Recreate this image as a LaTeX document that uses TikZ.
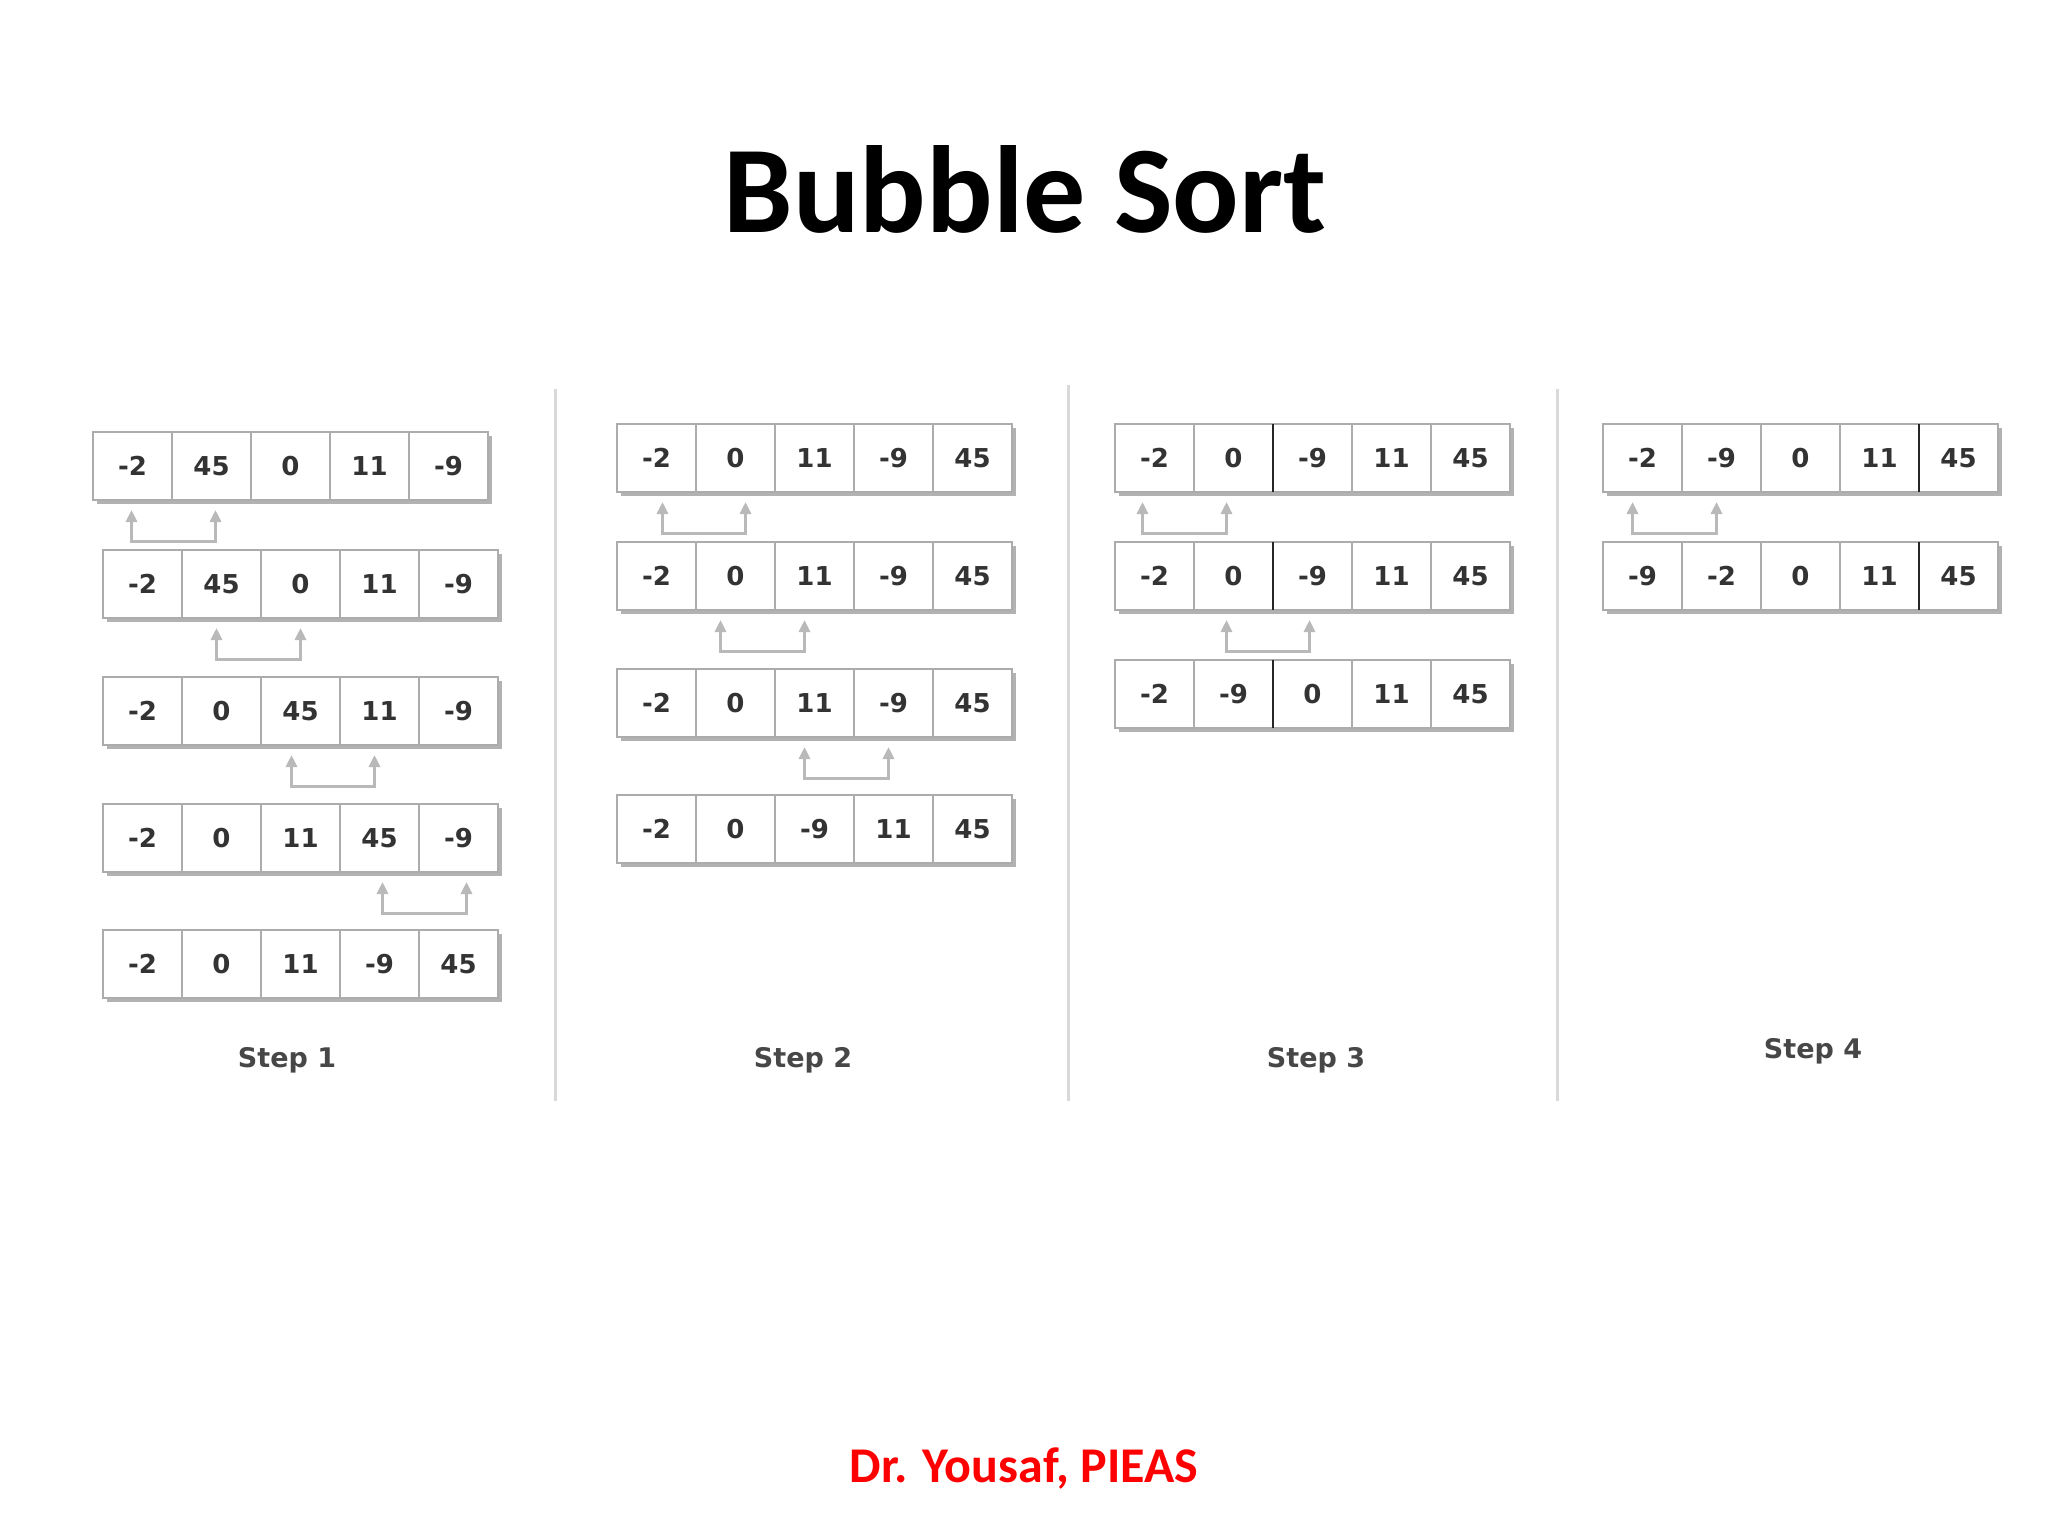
\documentclass[tikz,border=0pt]{standalone}
\usepackage{fontspec}
\newfontfamily\titlefont{Carlito}
\newfontfamily\numfont{DejaVu Sans}
\usetikzlibrary{arrows.meta,calc}
\tikzset{
  cell/.style={draw=gray!65, line width=2.5pt, fill=white, minimum width=79pt, minimum height=68pt,
    inner sep=0pt, outer sep=0pt, font=\numfont\bfseries\fontsize{26}{26}\selectfont, text=black!80},
  rowshadow/.style={fill=gray!60, draw=none},
  swp/.style={draw=gray!55, line width=3pt, line join=miter,
    {Triangle[length=12pt,width=11pt]}-{Triangle[length=12pt,width=11pt]}},
  steplabel/.style={font=\numfont\bfseries\fontsize{27}{27}\selectfont, text=black!72, anchor=base},
  sepline/.style={draw=gray!30, line width=3pt},
  darkdiv/.style={draw=black!85, line width=2.5pt},
  titletext/.style={font=\titlefont\bfseries\fontsize{124}{124}\selectfont, anchor=base},
  footertext/.style={font=\titlefont\bfseries\fontsize{50}{50}\selectfont, text=red, anchor=base},
}
% row: name, left x, center y, values
\newcommand\arrrow[4]{%
  \fill[rowshadow] (#2+4,#3-30) rectangle (#2+399,#3+38);
  \foreach \v [count=\i] in {#4} {
    \node[cell] (#1c\i) at (#2+79*\i-39.5,#3) {\v};
  }%
}
% swap bracket: cell A, cell B, x offsets
\newcommand\swapbr[4]{%
  \draw[swp] ($(#1.south)+(#3,10)$) -- ($(#1.south)+(#3,41)$) -| ($(#2.south)+(#4,10)$);%
}
\begin{document}
\begin{tikzpicture}[x=1pt,y=-1pt]
\useasboundingbox[fill=white] (0,0) rectangle (2048,1536);

\node[titletext] (title) at (1025,232) {Bubble Sort};
\node[footertext] (footer) at (1024,1482) {Dr. Yousaf, PIEAS};

% separators
\draw[sepline] (555,389) -- (555,1101);
\draw[sepline] (1068,385) -- (1068,1101);
\draw[sepline] (1557,389) -- (1557,1101);

% Step 1
\arrrow{sa}{93}{466}{-2,45,0,11,-9}
\arrrow{sb}{103}{584}{-2,45,0,11,-9}
\arrrow{sc}{103}{711}{-2,0,45,11,-9}
\arrrow{sd}{103}{838}{-2,0,11,45,-9}
\arrrow{se}{103}{964}{-2,0,11,-9,45}
\swapbr{sac1}{sac2}{-1}{4}
\swapbr{sbc2}{sbc3}{-5}{0}
\swapbr{scc3}{scc4}{-9}{-5}
\swapbr{sdc4}{sdc5}{3}{8}
\node[steplabel] (lab1) at (287,1067) {Step 1};

% Step 2
\arrrow{ta}{617}{458}{-2,0,11,-9,45}
\arrrow{tb}{617}{576}{-2,0,11,-9,45}
\arrrow{tc}{617}{703}{-2,0,11,-9,45}
\arrrow{td}{617}{829}{-2,0,-9,11,45}
\swapbr{tac1}{tac2}{6}{10}
\swapbr{tbc2}{tbc3}{-15}{-10}
\swapbr{tcc3}{tcc4}{-10}{-5}
\node[steplabel] (lab2) at (803,1067) {Step 2};

% Step 3
\arrrow{ua}{1115}{458}{-2,0,-9,11,45}
\arrrow{ub}{1115}{576}{-2,0,-9,11,45}
\arrrow{uc}{1115}{694}{-2,-9,0,11,45}
\foreach \r in {ua,ub,uc} {\draw[darkdiv] (\r c2.north east) -- (\r c2.south east);}
\swapbr{uac1}{uac2}{-12}{-7}
\swapbr{ubc2}{ubc3}{-7}{-3}
\node[steplabel] (lab3) at (1316,1067) {Step 3};

% Step 4
\arrrow{va}{1603}{458}{-2,-9,0,11,45}
\arrrow{vb}{1603}{576}{-9,-2,0,11,45}
\foreach \r in {va,vb} {\draw[darkdiv] (\r c4.north east) -- (\r c4.south east);}
\swapbr{vac1}{vac2}{-10}{-5}
\node[steplabel] (lab4) at (1813,1058) {Step 4};
\end{tikzpicture}
\end{document}
